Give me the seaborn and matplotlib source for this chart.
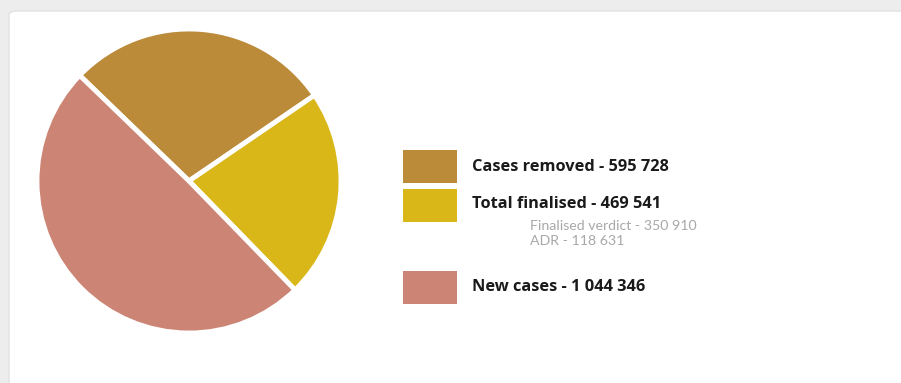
import matplotlib
matplotlib.use("Agg")
import matplotlib.pyplot as plt
from matplotlib.patches import Rectangle, FancyBboxPatch
import seaborn as sns

# ---- data ----
categories = ["Cases removed", "Total finalised", "New cases"]
values = [595728, 469541, 1044346]
colors = ["#BB8B3A", "#D9B719", "#CC8474"]
sub_labels = ["Finalised verdict", "ADR"]
sub_values = [350910, 118631]

def fmt(v):
    return f"{v:,}".replace(",", " ")

sns.set_theme(style="white")
plt.rcParams["font.family"] = ["Lato", "DejaVu Sans"]

W, H = 901, 383
fig = plt.figure(figsize=(W / 100, H / 100), dpi=100)
fig.patch.set_facecolor("#ededed")

def fx(x):
    return x / W

def fy(y):
    return 1 - y / H

# card background
card = FancyBboxPatch((fx(9), -0.05), 1.0, fy(11) + 0.05,
                      boxstyle="round,pad=0,rounding_size=0.01",
                      transform=fig.transFigure, facecolor="white",
                      edgecolor="#e2e2e2", linewidth=1.0, zorder=-10)
fig.patches.append(card)

# pie
cx, cy, r = 189, 181, 152
ax = fig.add_axes([fx(cx - r), fy(cy + r), 2 * r / W, 2 * r / H])
ax.set_facecolor("none")
ax.pie(values, colors=colors, startangle=136, counterclock=False,
       wedgeprops=dict(edgecolor="white", linewidth=3.5))
ax.set_xlim(-1, 1)
ax.set_ylim(-1, 1)
ax.set_aspect("equal")
ax.axis("off")

# legend
sq_x, sq_w, sq_h = 403, 54, 33
sq_tops = [150, 189, 271]
label_y = [167, 204, 287]
for i, (cat, val, col) in enumerate(zip(categories, values, colors)):
    fig.patches.append(Rectangle((fx(sq_x), fy(sq_tops[i] + sq_h)), sq_w / W, sq_h / H,
                                 transform=fig.transFigure, facecolor=col,
                                 edgecolor="none"))
    fig.text(fx(472), fy(label_y[i]), f"{cat} - {fmt(val)}", fontsize=11.8,
             fontweight="bold", color="#1a1a1a", va="center", ha="left",
             family=["Open Sans", "DejaVu Sans"])

sub_y = [226, 241]
for lab, val, yy in zip(sub_labels, sub_values, sub_y):
    fig.text(fx(530), fy(yy), f"{lab} - {fmt(val)}", fontsize=10.2,
             fontweight="normal", color="#a8a8a8", va="center", ha="left")

fig.savefig("out.png", dpi=100, facecolor=fig.get_facecolor())
